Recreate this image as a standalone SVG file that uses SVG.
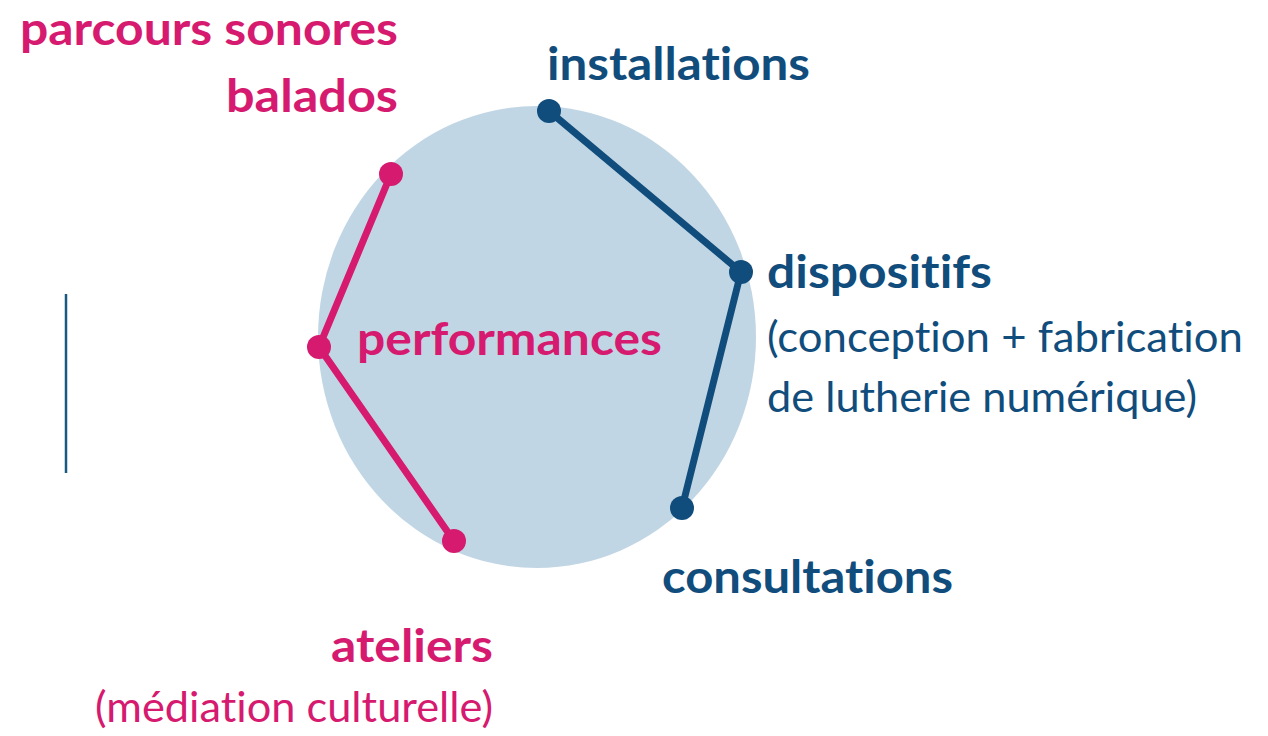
<svg xmlns="http://www.w3.org/2000/svg" width="1268" height="736" viewBox="0 0 1268 736">
<style>
.t{font-family:Lato,"Noto Sans","Liberation Sans",sans-serif;font-size:45px;font-variant-ligatures:none;font-feature-settings:"liga" 0,"clig" 0}
.b{font-weight:700}
.r{font-weight:400;font-size:43px}
.pk{fill:#d51a6f}
.bl{fill:#114d7c}
.cp{stroke:#d51a6f;stroke-width:7;fill:none;stroke-linejoin:round}
.cb{stroke:#114d7c;stroke-width:7;fill:none;stroke-linejoin:round}
</style>
<rect width="1268" height="736" fill="#ffffff"/>
<g id="background">
<ellipse cx="537" cy="337" rx="219" ry="231" fill="#c1d6e4"/>
<line x1="66" y1="294" x2="66" y2="473" stroke="#1a5a80" stroke-width="2.5"/>
</g>
<g id="connectors">
<polyline class="cp" points="391,174 319,347 454,541"/>
<polyline class="cb" points="549,111 741,272 682,508"/>
</g>
<g id="node-parcours">
<circle class="pk" cx="391" cy="174" r="12"/>
<text class="t b pk" x="20" y="45" textLength="378" lengthAdjust="spacingAndGlyphs">parcours sonores</text>
<text class="t b pk" x="226" y="112" textLength="172" lengthAdjust="spacingAndGlyphs">balados</text>
</g>
<g id="node-performances">
<circle class="pk" cx="319" cy="347" r="12"/>
<text class="t b pk" x="357" y="355" textLength="305" lengthAdjust="spacingAndGlyphs">performances</text>
</g>
<g id="node-ateliers">
<circle class="pk" cx="454" cy="541" r="12"/>
<text class="t b pk" x="331" y="662" textLength="162" lengthAdjust="spacingAndGlyphs">ateliers</text>
<text class="t r pk" x="95" y="722" textLength="398" lengthAdjust="spacingAndGlyphs">(médiation culturelle)</text>
</g>
<g id="node-installations">
<circle class="bl" cx="549" cy="111" r="12"/>
<text class="t b bl" x="547" y="80" textLength="263" lengthAdjust="spacingAndGlyphs">installations</text>
</g>
<g id="node-dispositifs">
<circle class="bl" cx="741" cy="272" r="12"/>
<text class="t b bl" x="767" y="288" textLength="225" lengthAdjust="spacingAndGlyphs">dispositifs</text>
<text class="t r bl" x="767" y="352" textLength="476" lengthAdjust="spacingAndGlyphs">(conception + fabrication</text>
<text class="t r bl" x="767" y="412" textLength="430" lengthAdjust="spacingAndGlyphs">de lutherie numérique)</text>
</g>
<g id="node-consultations">
<circle class="bl" cx="682" cy="508" r="12"/>
<text class="t b bl" x="662" y="593" textLength="291" lengthAdjust="spacingAndGlyphs">consultations</text>
</g>
</svg>
